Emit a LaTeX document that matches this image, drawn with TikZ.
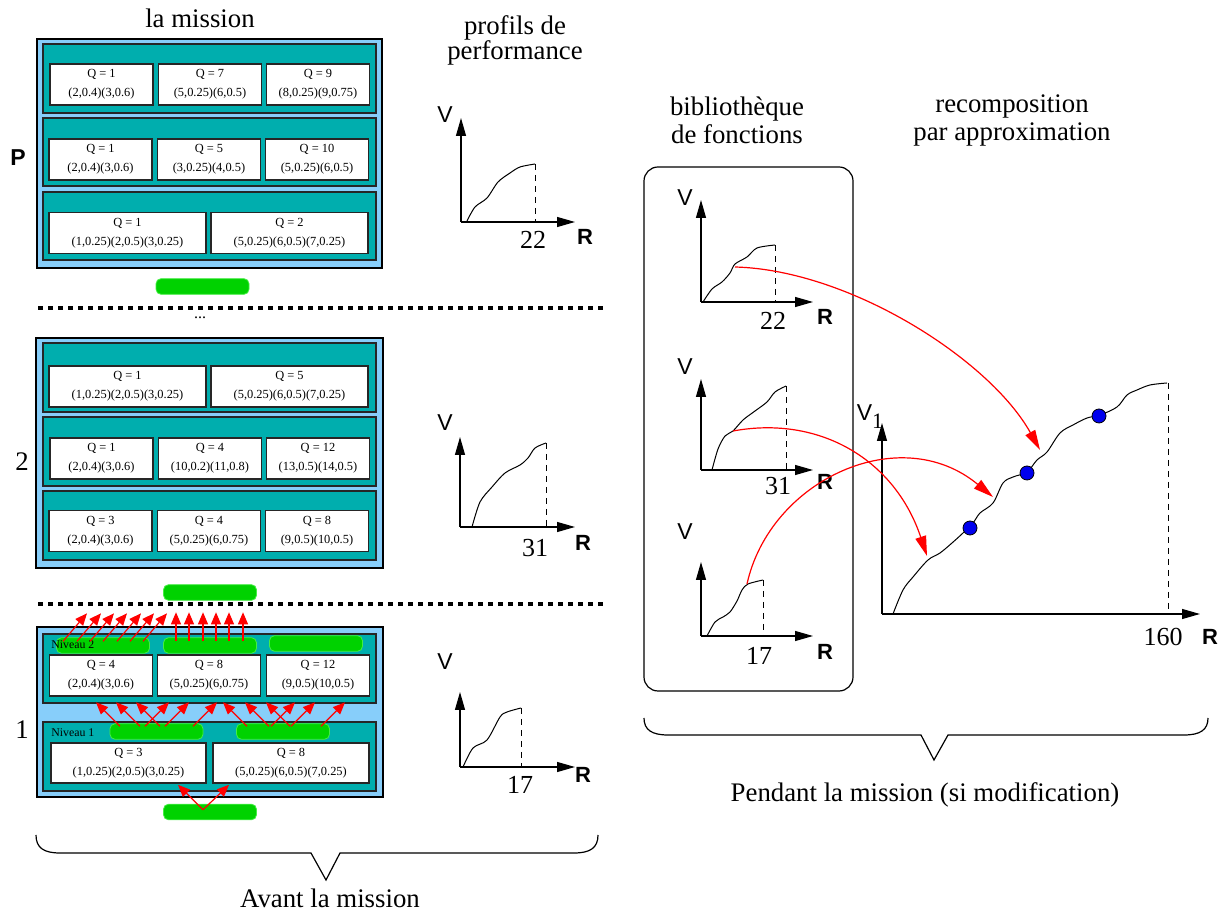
\documentclass[tikz,border=0pt]{standalone}
\usepackage{fontspec}
\setmainfont{Liberation Serif}
\setsansfont{Liberation Sans}
\usetikzlibrary{arrows.meta}

\definecolor{skyfill}{HTML}{87CEFA}
\definecolor{tealfill}{HTML}{00AEAE}
\definecolor{pillfill}{HTML}{00D200}
\definecolor{pilledge}{HTML}{44EE44}
\definecolor{dotblue}{HTML}{0000EE}

\begin{document}
\begin{tikzpicture}[
  x=0.5pt, y=-0.5pt,
  font=\fontsize{13.4}{16}\selectfont,
  outerbox/.style={draw=black, fill=skyfill, line width=0.7pt},
  levelrow/.style={draw=black!85, fill=tealfill, line width=0.7pt},
  cell/.style={
    rectangle, draw=black!85, fill=white, line width=0.6pt,
    inner sep=0pt, align=center,
    font=\fontsize{6.2}{9.5}\selectfont,
  },
  cellw/.style={cell, minimum width=51.5pt, minimum height=20.5pt},
  cellww/.style={cell, minimum width=78.5pt, minimum height=20.5pt},
  pill/.style={
    rectangle, draw=pilledge, fill=pillfill, rounded corners=2.5pt,
    line width=0.4pt, minimum width=46.5pt, minimum height=7.8pt, inner sep=0pt,
  },
  niveau/.style={font=\fontsize{5.9}{7}\selectfont, anchor=west, inner sep=0pt},
  sepline/.style={line width=2pt, dash pattern=on 2.5pt off 2.5pt},
  uparr/.style={red, line width=0.6pt, -{Triangle[length=6pt,width=5pt]}},
  axis/.style={line width=0.6pt, -{Triangle[length=9pt,width=5pt]}},
  curve/.style={line width=0.5pt},
  limit/.style={line width=0.5pt, dash pattern=on 3pt off 2.5pt},
  vlab/.style={font=\sffamily\fontsize{11.5}{12}\selectfont},
  rlab/.style={font=\sffamily\bfseries\fontsize{11}{12}\selectfont},
  num/.style={font=\fontsize{13}{14}\selectfont},
  recarr/.style={red, line width=0.6pt, -{Triangle[length=10pt,width=5.5pt]}},
  dot/.style={circle, draw=black, fill=dotblue, minimum size=7pt, inner sep=0pt, line width=0.4pt},
]
\useasboundingbox (0,0) rectangle (1232,913);

% titres
\node (tmission) at (200,18) {la mission};
\node[align=center, font=\fontsize{13.4}{12.5}\selectfont] (tprofils) at (515,40) {profils de\\performance};
\node[align=center, font=\fontsize{13.4}{14}\selectfont] (tbiblio) at (737,120) {biblioth\`eque\\de fonctions};
\node[align=center, font=\fontsize{13.4}{14}\selectfont] (trecomp) at (1012,120) {recomposition\\par approximation};

% ---- niveau P ----
\node[font=\sffamily\bfseries\fontsize{11.5}{12}\selectfont] (labP) at (18,158) {P};
\draw[outerbox] (37,39) rectangle (382,268);
\draw[levelrow] (43,44) rectangle (376,113);
\draw[levelrow] (43,118) rectangle (376,186);
\draw[levelrow] (43,192) rectangle (376,260);
\node[cellw] (pa1) at (101.5,84.5) {Q = 1\\(2,0.4)(3,0.6)};
\node[cellw] (pa2) at (210,84.5) {Q = 7\\(5,0.25)(6,0.5)};
\node[cellw] (pa3) at (318,84.5) {Q = 9\\(8,0.25)(9,0.75)};
\node[cellw] (pb1) at (100.5,159.5) {Q = 1\\(2,0.4)(3,0.6)};
\node[cellw] (pb2) at (209,159.5) {Q = 5\\(3,0.25)(4,0.5)};
\node[cellw] (pb3) at (317,159.5) {Q = 10\\(5,0.25)(6,0.5)};
\node[cellww] (pc1) at (127.5,233) {Q = 1\\(1,0.25)(2,0.5)(3,0.25)};
\node[cellww] (pc2) at (289.5,233) {Q = 2\\(5,0.25)(6,0.5)(7,0.25)};
\node[pill] (pillP) at (202.5,286.5) {};

\draw[sepline] (38,308) -- (605,308);
\node[font=\fontsize{8}{9}\selectfont] (dots) at (200,318) {...};

% ---- niveau 2 ----
\node (lab2) at (22,462) {2};
\draw[outerbox] (36,338) rectangle (383,568);
\draw[levelrow] (43,343) rectangle (376,412);
\draw[levelrow] (43,417) rectangle (376,486);
\draw[levelrow] (43,491) rectangle (376,560);
\node[cellww] (da1) at (127.5,386.5) {Q = 1\\(1,0.25)(2,0.5)(3,0.25)};
\node[cellww] (da2) at (289.5,386.5) {Q = 5\\(5,0.25)(6,0.5)(7,0.25)};
\node[cellw] (db1) at (101.5,458.5) {Q = 1\\(2,0.4)(3,0.6)};
\node[cellw] (db2) at (210,458.5) {Q = 4\\(10,0.2)(11,0.8)};
\node[cellw] (db3) at (318,458.5) {Q = 12\\(13,0.5)(14,0.5)};
\node[cellw] (dc1) at (100.5,531) {Q = 3\\(2,0.4)(3,0.6)};
\node[cellw] (dc2) at (209,531) {Q = 4\\(5,0.25)(6,0.75)};
\node[cellw] (dc3) at (317,531) {Q = 8\\(9,0.5)(10,0.5)};
\node[pill] (pillTwo) at (210,592.5) {};

\draw[sepline] (38,604) -- (605,604);

% ---- niveau 1 ----
\node (lab1) at (22,730) {1};
\draw[outerbox] (37,627) rectangle (383,797);
\draw[levelrow] (43,634) rectangle (376,703);
\draw[levelrow] (43,722) rectangle (376,791);
\node[pill] (pillNa) at (103,645.5) {};
\node[pill] (pillNb) at (210,645.5) {};
\node[pill] (pillNc) at (316,643.5) {};
\node[niveau] (niv2) at (51,645) {Niveau 2};
\node[cellw] (ua1) at (101,675.5) {Q = 4\\(2,0.4)(3,0.6)};
\node[cellw] (ua2) at (209,675.5) {Q = 8\\(5,0.25)(6,0.75)};
\node[cellw] (ua3) at (318,675.5) {Q = 12\\(9,0.5)(10,0.5)};
\node[pill] (pillLa) at (156.5,731.5) {};
\node[pill] (pillLb) at (283,731.5) {};
\node[niveau] (niv1) at (51,733) {Niveau 1};
\node[cellww, minimum width=77.5pt, minimum height=20pt] (ub1) at (128.5,763) {Q = 3\\(1,0.25)(2,0.5)(3,0.25)};
\node[cellww, minimum width=78pt, minimum height=20pt] (ub2) at (291,763) {Q = 8\\(5,0.25)(6,0.5)(7,0.25)};
\node[pill] (pillBot) at (210,812) {};

% fleches de propagation
\foreach \dx in {-40,-26,-13,0,14,27,40}
  \draw[uparr] ([xshift=\dx*0.5pt, yshift=-2pt]pillNa.north) -- ++(24,-28);
\foreach \dx in {-34,-21,-7,6,19,33}
  \draw[uparr] ([xshift=\dx*0.5pt, yshift=-2pt]pillNb.north) -- ++(0,-29);
\foreach \dx in {-36.5,-16.5,3.5}
  \draw[uparr] ([xshift=\dx*0.5pt, yshift=-1.5pt]pillLa.north) -- ++(-24,-24);
\foreach \dx in {-11.5,8.5,36.5}
  \draw[uparr] ([xshift=\dx*0.5pt, yshift=-1.5pt]pillLa.north) -- ++(24,-24);
\foreach \dx in {-36,-14,7}
  \draw[uparr] ([xshift=\dx*0.5pt, yshift=-1.5pt]pillLb.north) -- ++(-24,-24);
\foreach \dx in {-12,8,38}
  \draw[uparr] ([xshift=\dx*0.5pt, yshift=-1.5pt]pillLb.north) -- ++(24,-24);
\draw[uparr] ([xshift=-3.5pt, yshift=-3pt]pillBot.north) -- ++(-25,-25);
\draw[uparr] ([xshift=-3.5pt, yshift=-3pt]pillBot.north) -- ++(26,-25);

% ---- profils de performance ----
\draw[axis] (461,222) -- (461,118);
\draw[axis] (461,222) -- (575,222);
\draw[limit] (535,164) -- (535,222);
\draw[curve] plot[smooth] coordinates {(467,221) (475,207) (487,198) (498,182) (510,173) (520,167) (535,164)};
\node[vlab] (pv1) at (445,115) {V};
\node[rlab] (pr1) at (585,237) {R};
\node[num] (pn1) at (533,240) {22};

\draw[axis] (460,527) -- (460,437);
\draw[axis] (460,527) -- (575,527);
\draw[limit] (546,443) -- (546,527);
\draw[curve] plot[smooth] coordinates {(472,527) (480,502) (492,487) (505,473) (520,465) (528,458) (535,448) (546,443)};
\node[vlab] (pv2) at (445,423) {V};
\node[rlab] (pr2) at (583,543) {R};
\node[num] (pn2) at (535,548) {31};

\draw[axis] (460,767) -- (460,692);
\draw[axis] (460,767) -- (575,767);
\draw[limit] (521,708) -- (521,767);
\draw[curve] plot[smooth] coordinates {(463,767) (473,748) (487,740) (500,717) (507,712) (521,708)};
\node[vlab] (pv3) at (445,662) {V};
\node[rlab] (pr3) at (583,775) {R};
\node[num] (pn3) at (520,785) {17};

% ---- bibliotheque de fonctions ----
\draw[line width=0.6pt, rounded corners=7pt] (644,167) rectangle (853,691);

\draw[axis] (701,302) -- (701,200);
\draw[axis] (701,302) -- (813,302);
\draw[limit] (775,245) -- (775,302);
\draw[curve] plot[smooth] coordinates {(703,302) (712,289) (722,282) (730,273) (735,264) (747,257) (757,248) (775,245)};
\node[vlab] (lv1) at (685,198) {V};
\node[rlab] (lr1) at (825,317) {R};
\node[num] (ln1) at (773,321) {22};

\draw[axis] (701,470) -- (701,379);
\draw[axis] (701,470) -- (813,470);
\draw[limit] (786,386) -- (786,470);
\draw[curve] plot[smooth] coordinates {(712,470) (718,449) (725,436) (733,431) (743,420) (755,411) (767,402) (775,392) (786,386)};
\node[vlab] (lv2) at (685,367) {V};
\node[rlab] (lr2) at (825,482) {R};
\node[num] (ln2) at (778,486) {31};

\draw[axis] (701,636) -- (701,562);
\draw[axis] (701,636) -- (813,636);
\draw[limit] (763,580) -- (763,636);
\draw[curve] plot[smooth] coordinates {(707,636) (715,622) (723,617) (730,612) (737,601) (742,590) (748,584) (763,580)};
\node[vlab] (lv3) at (685,532) {V};
\node[rlab] (lr3) at (825,652) {R};
\node[num] (ln3) at (759,656) {17};

% ---- recomposition ----
\draw[axis] (882,614) -- (882,423);
\draw[axis] (882,614) -- (1200,614);
\draw[limit] (1168,383) -- (1168,614);
\draw[curve] plot[smooth, tension=0.55] coordinates {(893,614) (903,590) (913,577) (928,560) (940,553) (952,543) (963,533) (973,523) (980,513) (993,503) (1003,483) (1013,477) (1027,472) (1037,460) (1047,452) (1060,433) (1073,425) (1087,418) (1100,415) (1117,407) (1127,395) (1137,390) (1150,385) (1167,383)};
\node[vlab] (bigv) at (870,417) {V\raisebox{-4pt}{\rmfamily\fontsize{11}{12}\selectfont 1}};
\node[rlab] (bigr) at (1210,637) {R};
\node[num] (bign) at (1163,637) {160};
\node[dot] (c1) at (970,528) {};
\node[dot] (c2) at (1027,473) {};
\node[dot] (c3) at (1099,416) {};

\coordinate (src1) at (735,267);
\coordinate (src2) at (733,431);
\coordinate (src3) at (747,584);
\coordinate (dst1) at (1040,450);
\coordinate (dst2) at (927,556);
\coordinate (dst3) at (993,497);
\draw[recarr] (src1) .. controls (850,270) and (990,360) .. (dst1);
\draw[recarr] (src2) .. controls (820,415) and (895,460) .. (dst2);
\draw[recarr] (src3) .. controls (770,480) and (900,420) .. (dst3);

% ---- accolades ----
\draw[line width=0.6pt] (36,835) .. controls (36,848) and (44,853) .. (60,853)
  -- (311,853) -- (326,880) -- (340,853) -- (574,853)
  .. controls (590,853) and (598,848) .. (598,835);
\node (tavant) at (330,898) {Avant la mission};

\draw[line width=0.6pt] (644,718) .. controls (644,730) and (652,735) .. (668,735)
  -- (921,735) -- (934,760) -- (948,735) -- (1184,735)
  .. controls (1200,735) and (1208,730) .. (1208,718);
\node (tpendant) at (925,795) {Pendant la mission (si modification)};

\end{tikzpicture}
\end{document}
